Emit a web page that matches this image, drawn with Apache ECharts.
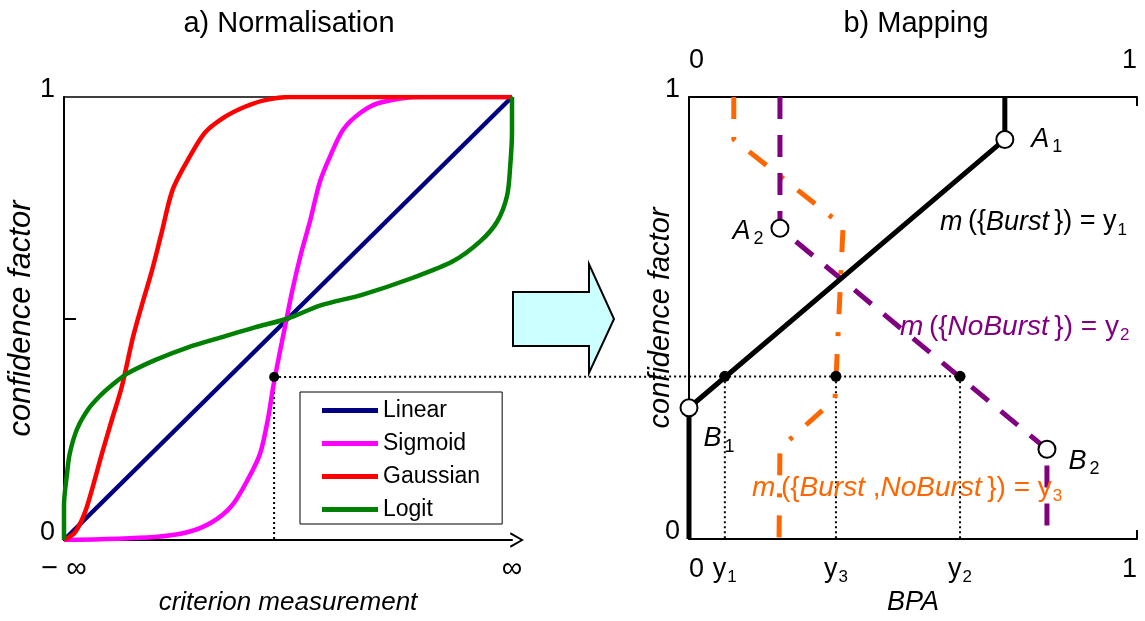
<!DOCTYPE html>
<html><head><meta charset="utf-8">
<script src="https://cdn.jsdelivr.net/npm/echarts@6/dist/echarts.min.js"></script>
<style>html,body{margin:0;padding:0;background:#fff}#c{width:1145px;height:621px}</style>
</head><body><div id="c"></div>
<script>
// ---------------- data ----------------
const leftXLabels = ['− ∞', '∞'];
const cfLabels = ['0', '1'];
const seriesNames = ['Linear', 'Sigmoid', 'Gaussian', 'Logit'];
const linear = [[0,0],[1,1]];
const sigmoid = [[0,0],[0.203,0.007],[0.277,0.018],[0.330,0.040],[0.375,0.078],[0.411,0.138],[0.438,0.196],[0.455,0.272],[0.467,0.346],[0.480,0.415],[0.493,0.480],[0.510,0.565],[0.530,0.650],[0.549,0.719],[0.571,0.808],[0.594,0.866],[0.623,0.926],[0.661,0.964],[0.705,0.987],[0.795,1],[1,1]];
const gaussian = [[0,0],[0.025,0.018],[0.047,0.063],[0.065,0.123],[0.085,0.196],[0.107,0.272],[0.129,0.346],[0.154,0.458],[0.174,0.531],[0.196,0.607],[0.217,0.690],[0.243,0.792],[0.281,0.866],[0.315,0.920],[0.359,0.955],[0.404,0.978],[0.449,0.993],[0.504,1],[1,1]];
const logit = [[0,0],[0,0.078],[0.007,0.152],[0.013,0.196],[0.029,0.250],[0.054,0.295],[0.080,0.325],[0.110,0.352],[0.140,0.375],[0.203,0.406],[0.277,0.435],[0.353,0.458],[0.426,0.480],[0.5,0.5],[0.571,0.529],[0.667,0.554],[0.779,0.592],[0.868,0.629],[0.929,0.674],[0.967,0.719],[0.989,0.777],[0.996,0.844],[1,0.920],[1,1]];
const curveColors = ['#000080', '#FF00FF', '#FF0000', '#008000'];

const cfLevel = 0.368;
const leftCrossX = 0.469;
const y1 = 0.080, y2 = 0.605, y3 = 0.328;
const bpaTickValues = [0, y1, y3, y2, 1];
const bpaTickLabels = ['0', 'y1', 'y3', 'y2', '1'];
const bpaTopLabels = ['0', '1'];
const burst = [[0,0],[0,0.297],[0.705,0.904],[0.705,1]];
const noBurst = [[0.203,1],[0.203,0.703],[0.799,0.203],[0.799,0]];
const both = [[0.100,1],[0.100,0.904],[0.344,0.708],[0.326,0.317],[0.203,0.205],[0.201,0]];
const corners = [[0.705,0.904],[0.203,0.703],[0,0.297],[0.799,0.203]];
const cornerNames = ['A1','A2','B1','B2'];

// ---------------- chart ----------------
const FF = '"Liberation Sans", Arial, sans-serif';
const chart = echarts.init(document.getElementById('c'), null, {renderer: 'canvas'});

const subRich = {
  v: {fontSize: 27, fontFamily: FF, color: '#000', lineHeight: 27},
  s: {fontSize: 17, fontFamily: FF, color: '#000', lineHeight: 17, padding: [16, 0, 0, 1]}
};
const subFmt = (lab) => lab.length > 1 ? `{v|${lab[0]}}{s|${lab.slice(1)}}` : `{v|${lab}}`;
const cfRich = {u: {fontSize: 27, fontFamily: FF, color: '#000', lineHeight: 27, padding: [0, 0, 14, 0]}};

const cornerLabelPos = {
  A1: {position: 'right', distance: 17, offset: [0, 0]},
  A2: {position: 'left', distance: 7, offset: [0, 3]},
  B1: {position: 'right', distance: 5, offset: [0, 31]},
  B2: {position: 'right', distance: 12, offset: [0, 12]}
};
const cornerRich = {
  i: {fontSize: 27, fontStyle: 'italic', fontFamily: FF, color: '#000', lineHeight: 27, padding: [0, 3, 0, 0]},
  s: {fontSize: 18, fontFamily: FF, color: '#000', lineHeight: 18, padding: [16, 0, 0, 0]}
};

const axisLineStyle = {color: '#000', width: 2};
const dotted = {color: '#000', width: 2, type: [2, 3]};

const series = [];
[linear, sigmoid, gaussian, logit].forEach((d, i) => {
  series.push({
    name: seriesNames[i], type: 'line', xAxisIndex: 0, yAxisIndex: 0,
    data: d, showSymbol: false, symbol: 'none', smooth: i === 0 ? false : 0.3,
    lineStyle: {color: curveColors[i], width: 4.5}, itemStyle: {color: curveColors[i]},
    z: 3 + i, silent: true, animation: false
  });
});
series.push({type: 'line', xAxisIndex: 0, yAxisIndex: 0, data: [[leftCrossX, cfLevel], [leftCrossX, 0]],
  symbol: 'none', lineStyle: dotted, z: 2, animation: false});
series.push({type: 'scatter', xAxisIndex: 0, yAxisIndex: 0, data: [[leftCrossX, cfLevel]],
  symbolSize: 10, itemStyle: {color: '#000', opacity: 1}, z: 10, animation: false});

[y1, y2, y3].forEach(v => {
  series.push({type: 'line', xAxisIndex: 2, yAxisIndex: 1, data: [[v, cfLevel], [v, 0]],
    symbol: 'none', lineStyle: dotted, z: 2, animation: false});
});
series.push({type: 'line', xAxisIndex: 2, yAxisIndex: 1, data: both, symbol: 'none',
  lineStyle: {color: '#FF6600', width: 5, type: [22, 18, 4, 18], cap: 'butt'}, z: 4, animation: false});
series.push({type: 'line', xAxisIndex: 2, yAxisIndex: 1, data: noBurst, symbol: 'none',
  lineStyle: {color: '#800080', width: 5, type: [22, 16], cap: 'butt'}, z: 5, animation: false});
series.push({type: 'line', xAxisIndex: 2, yAxisIndex: 1, data: burst, symbol: 'none',
  lineStyle: {color: '#000', width: 5}, z: 6, animation: false});
series.push({type: 'scatter', xAxisIndex: 2, yAxisIndex: 1,
  data: [y1, y3, y2].map(v => [v, cfLevel]),
  symbolSize: 11, itemStyle: {color: '#000', opacity: 1}, z: 10, animation: false});
series.push({type: 'scatter', xAxisIndex: 2, yAxisIndex: 1,
  data: corners.map((c, i) => ({
    value: c,
    label: Object.assign({show: true, formatter: `{i|${cornerNames[i][0]}}{s|${cornerNames[i].slice(1)}}`, rich: cornerRich, opacity: 1}, cornerLabelPos[cornerNames[i]])
  })),
  symbol: 'circle', symbolSize: 17,
  itemStyle: {color: '#fff', borderColor: '#000', borderWidth: 2, opacity: 1}, z: 11, animation: false});

function eqText(id, x, y, parts, color, fs) {
  const rich = {
    it: {fontSize: fs, fontStyle: 'italic', fontFamily: FF, lineHeight: fs, fill: color},
    n: {fontSize: fs, fontFamily: FF, lineHeight: fs, fill: color},
    s: {fontSize: 17, fontFamily: FF, lineHeight: 17, padding: [16, 0, 0, 1], fill: color}
  };
  return {id: id, type: 'text', x: x, y: y, z: 20,
    style: {text: parts, rich: rich, fill: color, font: fs + 'px ' + FF, align: 'left', verticalAlign: 'middle'}};
}

const option = {
  backgroundColor: '#fff',
  animation: false,
  title: [
    {text: 'a) Normalisation', left: 284, top: 4, textAlign: 'center',
     textStyle: {fontSize: 29, fontWeight: 'normal', fontFamily: FF, color: '#000'}},
    {text: 'b) Mapping', left: 911, top: 4, textAlign: 'center',
     textStyle: {fontSize: 29, fontWeight: 'normal', fontFamily: FF, color: '#000'}}
  ],
  legend: {
    show: true, data: seriesNames, orient: 'vertical', left: 300, top: 392,
    padding: [7, 22, 3, 22], itemGap: 10, itemWidth: 56, itemHeight: 5, icon: 'rect',
    borderColor: '#000', borderWidth: 1, backgroundColor: '#fff',
    textStyle: {fontSize: 23, lineHeight: 22, fontFamily: FF, color: '#000'},
    selectedMode: false, z: 8
  },
  grid: [
    {left: 64, top: 97, width: 448, height: 448},
    {left: 689, top: 97, width: 448, height: 448}
  ],
  xAxis: [
    {gridIndex: 0, type: 'value', min: 0, max: 1, position: 'bottom',
     axisLine: {show: true, lineStyle: axisLineStyle,
       symbol: ['none', 'path://M0,13 L7.5,0 L15,13 L13,13.6 L7.5,3.5 L2,13.6 Z'], symbolSize: [16, 14], symbolOffset: [0, 5]},
     axisTick: {show: false},
     axisLabel: {customValues: [0, 1], formatter: v => leftXLabels[Math.round(v)], fontSize: 29, fontFamily: FF, color: '#000', margin: 14},
     splitLine: {show: false},
     name: 'criterion measurement', nameLocation: 'middle', nameGap: 50, nameMoveOverlap: false,
     nameTextStyle: {fontSize: 26, fontStyle: 'italic', fontFamily: FF, color: '#000'}},
    {gridIndex: 0, type: 'value', min: 0, max: 1, position: 'top',
     axisLine: {show: true, onZero: false, lineStyle: {color: '#000', width: 1.5}},
     axisTick: {show: false}, axisLabel: {show: false}, splitLine: {show: false}},
    {gridIndex: 1, type: 'value', min: 0, max: 1, position: 'bottom',
     axisLine: {show: true, lineStyle: axisLineStyle},
     axisTick: {show: true, inside: true, length: 9, customValues: [1], lineStyle: axisLineStyle},
     axisLabel: {customValues: bpaTickValues, formatter: v => subFmt(bpaTickLabels[bpaTickValues.indexOf(v)]),
       rich: subRich, margin: 17, alignMinLabel: 'left', alignMaxLabel: 'right'},
     splitLine: {show: false},
     name: 'BPA', nameLocation: 'middle', nameGap: 50, nameMoveOverlap: false,
     nameTextStyle: {fontSize: 27, fontStyle: 'italic', fontFamily: FF, color: '#000'}},
    {gridIndex: 1, type: 'value', min: 0, max: 1, position: 'top',
     axisLine: {show: true, onZero: false, lineStyle: axisLineStyle},
     axisTick: {show: true, inside: true, length: 9, customValues: [1], lineStyle: axisLineStyle},
     axisLabel: {customValues: [0, 1], formatter: v => bpaTopLabels[Math.round(v)], fontSize: 27, fontFamily: FF, color: '#000',
       margin: 23, alignMinLabel: 'left', alignMaxLabel: 'right'},
     splitLine: {show: false}}
  ],
  yAxis: [
    {gridIndex: 0, type: 'value', min: 0, max: 1, position: 'left',
     axisLine: {show: true, lineStyle: axisLineStyle},
     axisTick: {show: true, inside: true, length: 12, customValues: [0.5], lineStyle: axisLineStyle},
     axisLabel: {customValues: [0, 1], formatter: v => `{u|${cfLabels[Math.round(v)]}}`, rich: cfRich, margin: 9},
     splitLine: {show: false},
     name: 'confidence factor', nameLocation: 'middle', nameGap: 27, nameRotate: 90, nameMoveOverlap: false,
     nameTextStyle: {fontSize: 31, fontStyle: 'italic', fontFamily: FF, color: '#000'}},
    {gridIndex: 1, type: 'value', min: 0, max: 1, position: 'left',
     axisLine: {show: true, lineStyle: axisLineStyle},
     axisTick: {show: false},
     axisLabel: {customValues: [0, 1], formatter: v => `{u|${cfLabels[Math.round(v)]}}`, rich: cfRich, margin: 9},
     splitLine: {show: false},
     name: 'confidence factor', nameLocation: 'middle', nameGap: 14, nameRotate: 90, nameMoveOverlap: false,
     nameTextStyle: {fontSize: 29, fontStyle: 'italic', fontFamily: FF, color: '#000'}}
  ],
  graphic: [
    {id: 'arrow', type: 'polygon', z: 5,
     shape: {points: [[513,292],[589,292],[589,264],[614,319],[589,373],[589,346],[513,346]]},
     style: {fill: '#CCFFFF', stroke: '#000', lineWidth: 2}},
    eqText('eq1', 940, 222, '{it|m}{n|\u2009({}{it|Burst}{n|\u2009}}{n|) = y}{s|1}', '#000', 27),
    eqText('eq2', 900, 327, '{it|m}{n|\u2009({}{it|NoBurst}{n|\u2009}}{n|) = y}{s|2}', '#800080', 28),
    eqText('eq3', 752, 488, '{it|m}{n|\u2009({}{it|Burst}{n| ,}{it|NoBurst}{n|\u2009}}{n|) = y}{s|3}', '#FF6600', 28)
  ],
  series: series
};
chart.setOption(option);

// connecting dotted line across both panels, placed through the axes' scales
const p1 = chart.convertToPixel({xAxisIndex: 0, yAxisIndex: 0}, [leftCrossX, cfLevel]);
const p2 = chart.convertToPixel({xAxisIndex: 2, yAxisIndex: 1}, [y2, cfLevel]);
chart.setOption({graphic: [{id: 'hline', type: 'line', z: 1,
  shape: {x1: p1[0], y1: p1[1], x2: p2[0], y2: p2[1]},
  style: {stroke: '#000', lineWidth: 2, lineDash: [2, 3]}}]});
</script></body></html>
